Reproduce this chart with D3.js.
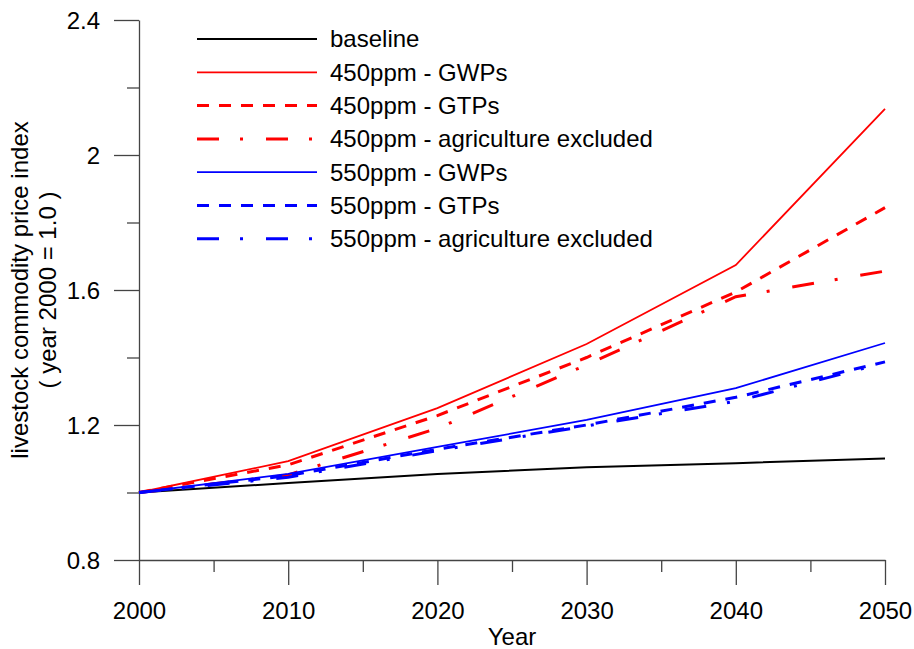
<!DOCTYPE html>
<html>
<head>
<meta charset="utf-8">
<script src="https://cdn.jsdelivr.net/npm/d3@7"></script>
<style>
  body { margin: 0; background: #fff; }
  text { font-family: "Liberation Sans", Arial, sans-serif; fill: #000; }
  .axis path, .axis line { stroke: #444; stroke-width: 1.3; }
  .axis text { font-size: 24px; }
</style>
</head>
<body>
<svg id="chart"></svg>
<script>
const years = [2000, 2010, 2020, 2030, 2040, 2050]
const baseline = [1.0, 1.028, 1.055, 1.075, 1.087, 1.101]
const gwp450 = [1.0, 1.093, 1.25, 1.44, 1.674, 2.137]
const gtp450 = [1.0, 1.082, 1.228, 1.4, 1.594, 1.844]
const agex450 = [1.0, 1.052, 1.19, 1.378, 1.58, 1.656]
const gwp550 = [1.0, 1.055, 1.135, 1.215, 1.309, 1.443]
const gtp550 = [1.0, 1.05, 1.128, 1.2, 1.282, 1.387]
const agex550 = [1.0, 1.045, 1.124, 1.197, 1.27, 1.384]
const seriesNames = ['baseline', '450ppm - GWPs', '450ppm - GTPs', '450ppm - agriculture excluded',
  '550ppm - GWPs', '550ppm - GTPs', '550ppm - agriculture excluded']
const yTicks = [0.8, 1.2, 1.6, 2, 2.4]
const yMinor = [1.0, 1.4, 1.8, 2.2]
const xTicks = [2000, 2010, 2020, 2030, 2040, 2050]
const xMinor = [2005, 2015, 2025, 2035, 2045]

const config = { width: 914, height: 649, margin: { top: 20, right: 29, bottom: 89, left: 139 } }

const styles = [
  { color: '#000', width: 2, dash: null },
  { color: '#ff0000', width: 1.8, dash: null },
  { color: '#ff0000', width: 3, dash: '12,10' },
  { color: '#ff0000', width: 3, dash: '22,21,3,23' },
  { color: '#0000ff', width: 1.8, dash: null },
  { color: '#0000ff', width: 3, dash: '12,10' },
  { color: '#0000ff', width: 3, dash: '22,21,3,23' }
]
const values = [baseline, gwp450, gtp450, agex450, gwp550, gtp550, agex550]
const series = seriesNames.map((name, i) => ({ name, values: values[i], ...styles[i] }))

const svg = d3.select('#chart')
  .attr('width', config.width)
  .attr('height', config.height)

const x = d3.scaleLinear()
  .domain([2000, 2050])
  .range([config.margin.left, config.width - config.margin.right])
const y = d3.scaleLinear()
  .domain([0.8, 2.4])
  .range([config.height - config.margin.bottom, config.margin.top])

// minor ticks first so the major axis draws on top
svg.append('g').attr('class', 'axis')
  .attr('transform', `translate(0, ${y(0.8)})`)
  .call(d3.axisBottom(x).tickValues(xMinor).tickSize(12).tickFormat(''))
  .call(g => g.select('.domain').remove())
svg.append('g').attr('class', 'axis')
  .attr('transform', `translate(${x(2000)}, 0)`)
  .call(d3.axisLeft(y).tickValues(yMinor).tickSize(12).tickFormat(''))
  .call(g => g.select('.domain').remove())

svg.append('g').attr('class', 'axis x')
  .attr('transform', `translate(0, ${y(0.8)})`)
  .call(d3.axisBottom(x).tickValues(xTicks).tickSize(25).tickSizeOuter(0).tickFormat(d3.format('d')))
  .call(g => g.selectAll('.tick text').attr('dy', 0).attr('y', 59))

svg.append('g').attr('class', 'axis y')
  .attr('transform', `translate(${x(2000)}, 0)`)
  .call(d3.axisLeft(y).tickValues(yTicks).tickSize(25).tickSizeOuter(0).tickFormat(d => d))
  .call(g => g.selectAll('.tick text').attr('x', -39).attr('dy', '0.35em'))

const line = d3.line()
  .x((d, i) => x(years[i]))
  .y(d => y(d))

svg.append('g').attr('class', 'lines')
  .selectAll('path')
  .data(series)
  .join('path')
    .attr('d', d => line(d.values))
    .attr('fill', 'none')
    .attr('stroke', d => d.color)
    .attr('stroke-width', d => d.width)
    .attr('stroke-dasharray', d => d.dash)

// legend
const legend = svg.append('g').attr('class', 'legend')
  .attr('transform', 'translate(197, 39)')
  .selectAll('g')
  .data(series)
  .join('g')
    .attr('transform', (d, i) => `translate(0, ${i * 33.3})`)
legend.append('line')
  .attr('x1', 0).attr('x2', 120)
  .attr('stroke', d => d.color)
  .attr('stroke-width', d => d.width)
  .attr('stroke-dasharray', d => d.dash)
legend.append('text')
  .attr('x', 133)
  .attr('dy', '0.35em')
  .style('font-size', '24px')
  .text(d => d.name)

svg.append('text')
  .attr('x', (x(2000) + x(2050)) / 2)
  .attr('y', 645)
  .attr('text-anchor', 'middle')
  .style('font-size', '24px')
  .text('Year')

svg.append('g')
  .attr('transform', `translate(0, ${y(1.6)}) rotate(-90)`)
  .call(g => g.append('text')
    .attr('x', 0).attr('y', 28)
    .attr('text-anchor', 'middle')
    .style('font-size', '24px')
    .text('livestock commodity price index'))
  .call(g => g.append('text')
    .attr('x', 0).attr('y', 56)
    .attr('text-anchor', 'middle')
    .style('font-size', '24px')
    .text('( year 2000 = 1.0 )'))
</script>
</body>
</html>
